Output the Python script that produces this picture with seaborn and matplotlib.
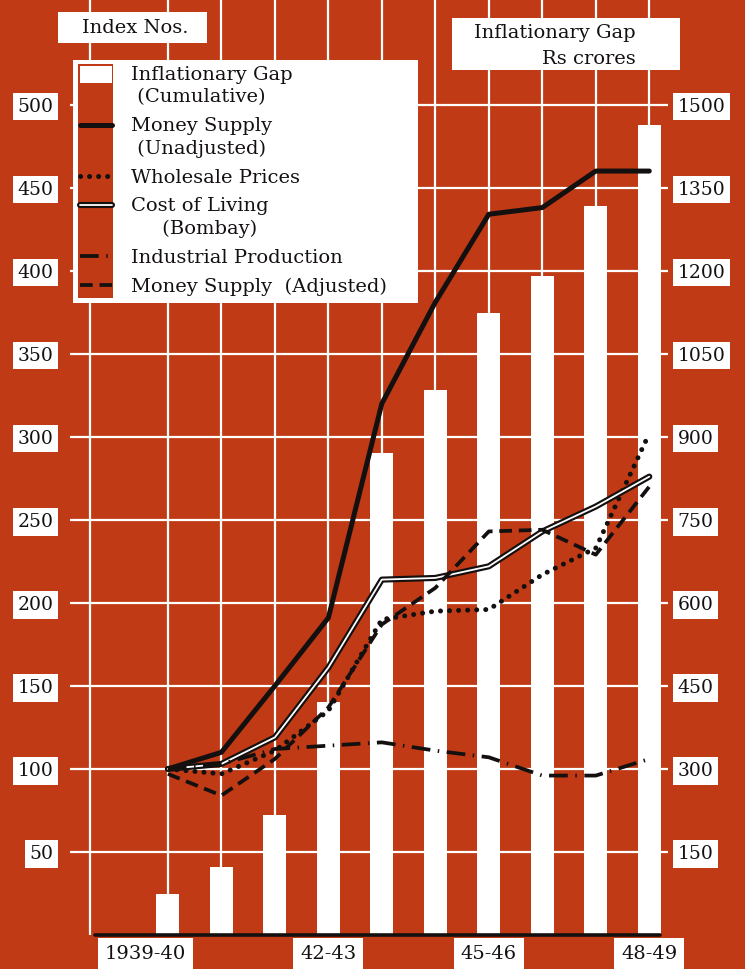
import numpy as np
import matplotlib.pyplot as plt
import matplotlib.patheffects as pe
from matplotlib.patches import Rectangle, Patch
from matplotlib.transforms import ScaledTranslation
import seaborn as sns

W, H = 745, 969
RED = '#C03A15'
INK = '#141010'

YEARS = ['1939-40', '40-41', '41-42', '42-43', '43-44',
         '44-45', '45-46', '46-47', '47-48', '48-49']
TICK_YEARS = ['1939-40', '42-43', '45-46', '48-49']

# Inflationary gap (cumulative), Rs crores -> right axis
GAP = [74, 123, 217, 421, 871, 985, 1124, 1191, 1316, 1464]

# index numbers (1939-40 = 100) -> left axis
MONEY_UNADJ = [100, 110, 150, 191, 320, 381, 434, 438, 460, 460]
WHOLESALE = [100, 97, 111, 135, 190, 195, 196, 217, 233, 302]
COST_LIVING = [100, 103, 119, 161, 214, 215, 222, 243, 258, 276]
INDUSTRIAL = [100, 103, 112, 114, 116, 111, 107, 96, 96, 106]
MONEY_ADJ = [97, 84, 106, 137, 187, 209, 243, 244, 229, 270]

LEFT_TICKS = list(range(50, 501, 50))
RIGHT_TICKS = list(range(150, 1501, 150))


def fig_box(fig, x0, y0, x1, y1, color, z):
    # box in pixel coords measured from the top-left corner
    r = Rectangle((x0 / W, 1 - y1 / H), (x1 - x0) / W, (y1 - y0) / H,
                  transform=fig.transFigure, facecolor=color,
                  edgecolor='none', zorder=z)
    fig.add_artist(r)


def main():
    sns.set_theme(style='white')
    plt.rcParams['font.family'] = ['DejaVu Serif']

    fig = plt.figure(figsize=(W / 100, H / 100), dpi=100, facecolor=RED)
    ax = fig.add_axes([70 / W, 34 / H, 598 / W, 935 / H])
    ax2 = ax.twinx()
    ax.set_zorder(2)
    ax2.set_zorder(1)
    ax.patch.set_visible(False)
    ax2.patch.set_visible(False)

    pos = np.arange(len(YEARS))

    # bars: inflationary gap on the right-hand scale
    sns.barplot(x=pos, y=GAP, native_scale=True, color='white', saturation=1,
                width=0.43, linewidth=0, errorbar=None, ax=ax2)

    # index lines on the left-hand scale
    sns.lineplot(x=pos, y=MONEY_UNADJ, ax=ax, color=INK, lw=3.6,
                 label='Money Supply\n (Unadjusted)')
    sns.lineplot(x=pos, y=WHOLESALE, ax=ax, color=INK, lw=3.6,
                 linestyle=(0, (0.01, 1.8)), dash_capstyle='round',
                 label='Wholesale Prices')
    sns.lineplot(x=pos, y=COST_LIVING, ax=ax, color='white', lw=1.3,
                 path_effects=[pe.Stroke(linewidth=4.4, foreground=INK), pe.Normal()],
                 label='Cost of Living\n     (Bombay)')
    sns.lineplot(x=pos, y=INDUSTRIAL, ax=ax, color=INK, lw=2.7,
                 linestyle=(0, (5, 2, 0.4, 2)),
                 label='Industrial Production')
    sns.lineplot(x=pos, y=MONEY_ADJ, ax=ax, color=INK, lw=2.7,
                 linestyle=(0, (3.4, 1.8)),
                 label='Money Supply  (Adjusted)')
    if ax.get_legend():
        ax.get_legend().remove()

    # axes ranges and ticks
    ax.set_xlim(-1.83, 9.35)
    ax.set_ylim(0, 563)
    ax2.set_ylim(0, 1689)
    ax.set_yticks(LEFT_TICKS)
    ax2.set_yticks(RIGHT_TICKS)
    ax.set_xticks(pos)
    ax.set_xticklabels([y if y in TICK_YEARS else '' for y in YEARS])
    ax.set_xlabel('')
    ax.set_ylabel('')
    ax2.set_ylabel('')

    for a in (ax, ax2):
        for s in a.spines.values():
            s.set_visible(False)
    ax.grid(True, color='white', lw=1.6)
    ax.set_axisbelow(True)
    ax2.grid(False)
    ax.axvline(-1.46, color='white', lw=1.6, zorder=0.5)
    ax.axhline(0, xmin=0.042, xmax=0.987, color=INK, lw=2.6, clip_on=False, zorder=3)

    ax.tick_params(axis='y', length=0, pad=12, labelsize=13.5, labelcolor=INK)
    ax2.tick_params(axis='y', length=0, pad=7, labelsize=13.5, labelcolor=INK)
    ax.tick_params(axis='x', length=0, pad=7, labelsize=14, labelcolor=INK)
    box = dict(boxstyle='square,pad=0.25', fc='white', ec='none')
    for lbl in ax.get_yticklabels() + ax2.get_yticklabels():
        lbl.set_bbox(box)
    for lbl in ax.get_xticklabels():
        lbl.set_bbox(dict(boxstyle='square,pad=0.35', fc='white', ec='none'))
        if lbl.get_text() == '1939-40':
            # first label sits a little left of its bar in the original
            lbl.set_transform(lbl.get_transform()
                              + ScaledTranslation(-16 / 72, 0, fig.dpi_scale_trans))

    # axis titles
    fig_box(fig, 58, 12, 207, 43, 'white', 3)
    fig.text(135 / W, 1 - 28 / H, 'Index Nos.', ha='center', va='center',
             size=14, color=INK, zorder=4)
    fig_box(fig, 452, 18, 680, 70, 'white', 3)
    fig.text(474 / W, 1 - 33 / H, 'Inflationary Gap', ha='left', va='center',
             size=14, color=INK, zorder=4)
    fig.text(542 / W, 1 - 59 / H, 'Rs crores', ha='left', va='center',
             size=14, color=INK, zorder=4)

    # legend: white box with a red strip behind the samples
    fig_box(fig, 73, 60, 418, 303, 'white', 3)
    fig_box(fig, 78, 64, 113, 298, RED, 4)
    handles, labels = ax.get_legend_handles_labels()
    handles = [Patch(facecolor='white', edgecolor='none')] + handles
    labels = ['Inflationary Gap\n (Cumulative)'] + labels
    leg = fig.legend(handles, labels, loc='upper left',
                     bbox_to_anchor=(80 / W, 1 - 66 / H), bbox_transform=fig.transFigure,
                     frameon=False, borderaxespad=0, borderpad=0,
                     handlelength=1.65, handleheight=0.95, handletextpad=0.95,
                     labelspacing=0.56, prop={'size': 14}, labelcolor=INK)
    leg.set_zorder(5)
    for t in leg.get_texts():
        t.set_linespacing(1.3)
    for col in leg._legend_handle_box.get_children():
        for row in col.get_children():
            row.align = 'top'

    fig.savefig('out.png', dpi=100, facecolor=RED)


if __name__ == '__main__':
    main()
